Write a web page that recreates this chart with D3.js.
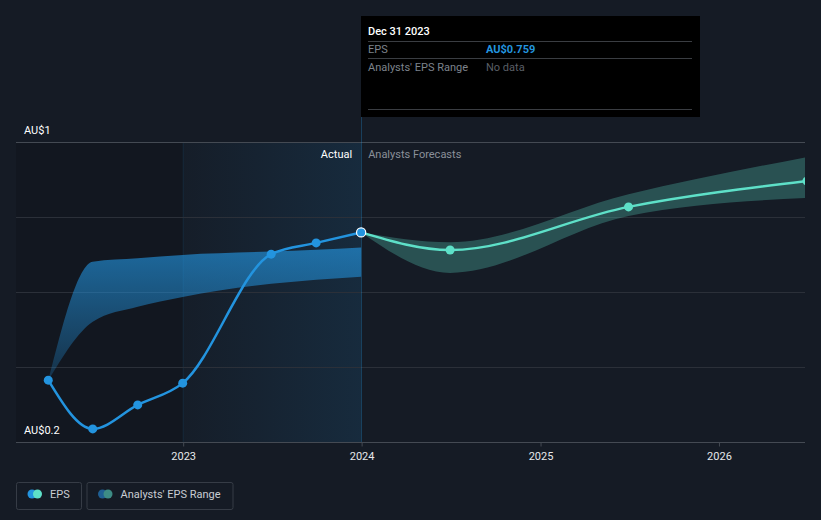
<!DOCTYPE html>
<html>
<head>
<meta charset="utf-8">
<script src="https://cdn.jsdelivr.net/npm/d3@7"></script>
<style>
  html, body { margin: 0; padding: 0; background: #151b25; }
  svg { display: block; font-family: Roboto, "Noto Sans", sans-serif; }
</style>
</head>
<body>
<svg id="chart" width="821" height="520"></svg>
<script>
// ---------- data ----------
const actualDates  = ["2022-03-31", "2022-06-30", "2022-09-30", "2022-12-31", "2023-06-30", "2023-09-30", "2023-12-31"];
const actualEPS    = [0.365, 0.235, 0.299, 0.357, 0.701, 0.731, 0.759];

const pastRangeDates = ["2022-03-31", "2022-06-30", "2022-09-30", "2022-12-31", "2023-06-30", "2023-09-30", "2023-12-31"];
const pastRangeLow   = [0.365, 0.521, 0.561, 0.587, 0.622, 0.633, 0.641];
const pastRangeHigh  = [0.365, 0.681, 0.690, 0.699, 0.708, 0.713, 0.719];

const forecastDates = ["2023-12-31", "2024-06-30", "2025-06-30", "2026-06-30"];
const forecastEPS   = [0.759, 0.712, 0.827, 0.896];
const forecastLow   = [0.759, 0.651, 0.803, 0.851];
const forecastHigh  = [0.759, 0.733, 0.861, 0.960];

const yTickValues = [0.2, 0.4, 0.6, 0.8, 1.0];
const yTickLabels = ["AU$0.2", "", "", "", "AU$1"];
const xTickYears  = [2023, 2024, 2025, 2026];

const legendItems = ["EPS", "Analysts' EPS Range"];
const tooltipTitle = "Dec 31 2023";
const tooltipRows  = [["EPS", "AU$0.759"], ["Analysts' EPS Range", "No data"]];

// ---------- setup ----------
const parse = d3.utcParse("%Y-%m-%d");
const svg = d3.select("#chart");
const pLeft = 16, pRight = 805, pTop = 142, pBottom = 442;

const x = d3.scaleUtc()
  .domain([parse("2022-01-24"), parse("2026-06-26")])
  .range([pLeft, pRight]);
const y = d3.scaleLinear().domain([0.2, 1.0]).range([pBottom, pTop]);

const todayDate = parse("2023-12-31");
const pastStart = parse("2023-01-01");

const BLUE = "#2394df", MINT = "#5ee0c8";

const defs = svg.append("defs");
defs.append("clipPath").attr("id", "plotClip")
  .append("rect").attr("x", pLeft).attr("y", 0).attr("width", pRight - pLeft).attr("height", pBottom);

const gHi = defs.append("linearGradient").attr("id", "pastHi")
  .attr("x1", "0").attr("x2", "1").attr("y1", "0").attr("y2", "0");
gHi.append("stop").attr("offset", "0").attr("stop-color", BLUE).attr("stop-opacity", 0.02);
gHi.append("stop").attr("offset", "1").attr("stop-color", BLUE).attr("stop-opacity", 0.13);

const gBand = defs.append("linearGradient").attr("id", "bandGrad")
  .attr("gradientUnits", "userSpaceOnUse")
  .attr("x1", 0).attr("x2", 0).attr("y1", y(0.72)).attr("y2", y(0.37));
gBand.append("stop").attr("offset", "0").attr("stop-color", BLUE).attr("stop-opacity", 0.66);
gBand.append("stop").attr("offset", "1").attr("stop-color", BLUE).attr("stop-opacity", 0.22);

// background regions
svg.append("rect").attr("x", pLeft).attr("y", pTop)
  .attr("width", x(pastStart) - pLeft).attr("height", pBottom - pTop)
  .attr("fill", "#000").attr("opacity", 0.12);
svg.append("rect").attr("x", x(pastStart)).attr("y", pTop)
  .attr("width", x(todayDate) - x(pastStart)).attr("height", pBottom - pTop)
  .attr("fill", "url(#pastHi)");
svg.append("line").attr("x1", x(pastStart)).attr("x2", x(pastStart))
  .attr("y1", pTop).attr("y2", pBottom)
  .attr("stroke", BLUE).attr("stroke-opacity", 0.12);

// gridlines
svg.append("g").selectAll("line").data(yTickValues).join("line")
  .attr("x1", pLeft).attr("x2", pRight)
  .attr("y1", d => Math.round(y(d)) + 0.5).attr("y2", d => Math.round(y(d)) + 0.5)
  .attr("stroke", d => (d === 1.0 || d === 0.2) ? "#444a53" : "#2b3039")
  .attr("stroke-width", 1);

// y labels
svg.append("g").selectAll("text").data(yTickValues.filter((d, i) => yTickLabels[i]))
  .join("text")
  .attr("x", 24).attr("y", d => y(d) - 8)
  .attr("fill", "#ffffff").attr("font-size", 11)
  .text(d => yTickLabels[yTickValues.indexOf(d)]);

// x axis
const xAxis = d3.axisBottom(x)
  .tickValues(xTickYears.map(yr => new Date(Date.UTC(yr, 0, 1))))
  .tickFormat(d3.utcFormat("%Y"))
  .tickSize(4).tickPadding(6);
const gx = svg.append("g").attr("transform", `translate(0,${pBottom + 0.5})`).call(xAxis);
gx.select(".domain").remove();
gx.selectAll(".tick line").attr("stroke", "#444a53");
gx.selectAll(".tick text").attr("fill", "#e6e8eb").attr("font-size", 11)
  .attr("font-family", "Roboto, sans-serif");

// today line
svg.append("line").attr("x1", Math.round(x(todayDate)) + 0.5).attr("x2", Math.round(x(todayDate)) + 0.5)
  .attr("y1", 16).attr("y2", pBottom)
  .attr("stroke", BLUE).attr("stroke-opacity", 0.3);

// labels Actual / Analysts Forecasts
svg.append("text").attr("x", x(todayDate) - 9).attr("y", 158)
  .attr("text-anchor", "end").attr("fill", "#ffffff").attr("font-size", 11).text("Actual");
svg.append("text").attr("x", x(todayDate) + 7).attr("y", 158)
  .attr("fill", "#8a9099").attr("font-size", 11).text("Analysts Forecasts");

const plot = svg.append("g").attr("clip-path", "url(#plotClip)");

// past range band
const pastBand = pastRangeDates.map((d, i) => ({ d: parse(d), lo: pastRangeLow[i], hi: pastRangeHigh[i] }));
plot.append("path").datum(pastBand)
  .attr("fill", "url(#bandGrad)")
  .attr("d", d3.area().curve(d3.curveMonotoneX)
    .x(p => x(p.d)).y0(p => y(p.lo)).y1(p => y(p.hi)));

// forecast band
const fBand = forecastDates.map((d, i) => ({ d: parse(d), lo: forecastLow[i], hi: forecastHigh[i], v: forecastEPS[i] }));
plot.append("path").datum(fBand)
  .attr("fill", MINT).attr("fill-opacity", 0.28)
  .attr("d", d3.area().curve(d3.curveMonotoneX)
    .x(p => x(p.d)).y0(p => y(p.lo)).y1(p => y(p.hi)));

// actual line
const actual = actualDates.map((d, i) => ({ d: parse(d), v: actualEPS[i] }));
const lineGen = d3.line().curve(d3.curveMonotoneX).x(p => x(p.d)).y(p => y(p.v));
plot.append("path").datum(actual)
  .attr("fill", "none").attr("stroke", BLUE).attr("stroke-width", 2.5).attr("d", lineGen);

// forecast line
plot.append("path").datum(fBand)
  .attr("fill", "none").attr("stroke", MINT).attr("stroke-width", 2.5).attr("d", lineGen);

// points
plot.append("g").selectAll("circle").data(actual.slice(0, -1)).join("circle")
  .attr("cx", p => x(p.d)).attr("cy", p => y(p.v)).attr("r", 4.5).attr("fill", BLUE);
plot.append("g").selectAll("circle").data(fBand.slice(1)).join("circle")
  .attr("cx", p => x(p.d)).attr("cy", p => y(p.v)).attr("r", 4.5).attr("fill", MINT);
const last = actual[actual.length - 1];
plot.append("circle").attr("cx", x(last.d)).attr("cy", y(last.v)).attr("r", 4.6)
  .attr("fill", BLUE).attr("stroke", "#ffffff").attr("stroke-width", 1.2);

// tooltip
const tx = Math.round(x(todayDate));
const tt = svg.append("g");
tt.append("rect").attr("x", tx).attr("y", 16).attr("width", 339).attr("height", 101).attr("fill", "#000");
tt.append("text").attr("x", tx + 7).attr("y", 35).attr("fill", "#ffffff")
  .attr("font-size", 11).attr("font-weight", 500).text(tooltipTitle);
[41.5, 58.5, 109.5].forEach(yy => {
  tt.append("line").attr("x1", tx + 7).attr("x2", tx + 331).attr("y1", yy).attr("y2", yy)
    .attr("stroke", "#3a3d42").attr("stroke-width", 1);
});
tooltipRows.forEach((r, i) => {
  const yy = 53 + i * 17.5;
  tt.append("text").attr("x", tx + 7).attr("y", yy).attr("fill", "#7d838c").attr("font-size", 11).text(r[0]);
  tt.append("text").attr("x", tx + 125).attr("y", yy)
    .attr("fill", i === 0 ? BLUE : "#5a5f66")
    .attr("font-weight", i === 0 ? 700 : 400)
    .attr("font-size", 11).text(r[1]);
});

// legend
const legendBoxes = [
  { x: 16.5, w: 65, colors: [BLUE, MINT] },
  { x: 87, w: 146, colors: ["#1f5f93", "#3d8c85"] }
];
legendItems.forEach((label, i) => {
  const b = legendBoxes[i];
  const g = svg.append("g");
  g.append("rect").attr("x", b.x).attr("y", 482.5).attr("width", b.w).attr("height", 27)
    .attr("rx", 2).attr("fill", "none").attr("stroke", "#363c46");
  g.append("circle").attr("cx", b.x + 15.5).attr("cy", 494).attr("r", 4.5).attr("fill", b.colors[0]);
  g.append("circle").attr("cx", b.x + 21).attr("cy", 494).attr("r", 4.5).attr("fill", b.colors[1]);
  g.append("text").attr("x", b.x + 33.5).attr("y", 498).attr("fill", "#c9cdd3")
    .attr("font-size", 11).text(label);
});
</script>
</body>
</html>
